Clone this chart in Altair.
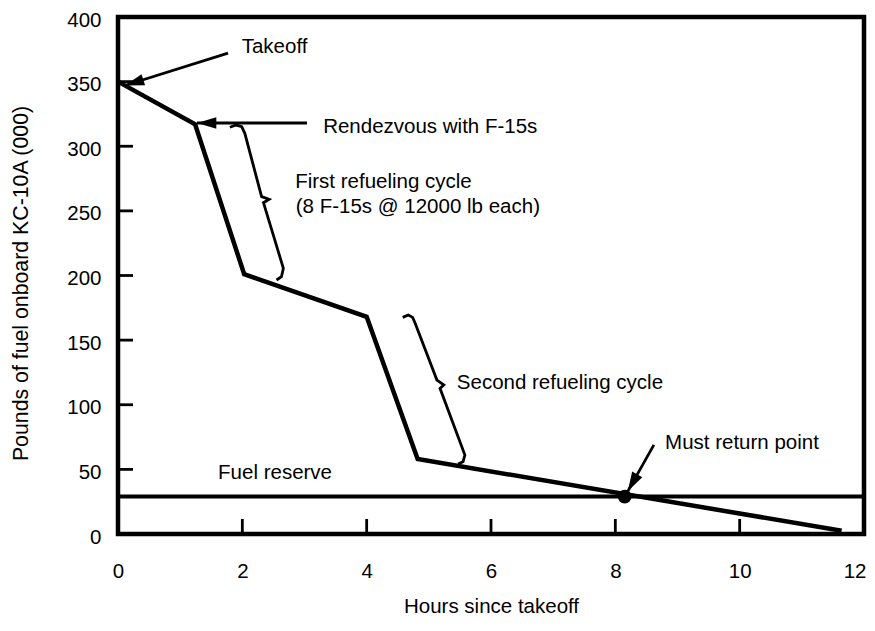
import math
import altair as alt
import pandas as pd

# ---------------- data ----------------
hours = [0.0, 1.24, 2.03, 4.0, 4.82, 11.64]
fuel = [350, 317, 201, 168, 58, 2.5]

reserve_level = 29
return_x = [8.15]
return_y = [29]

x_tick_values = [0, 2, 4, 6, 8, 10, 12]
y_tick_values = [0, 50, 100, 150, 200, 250, 300, 350, 400]
x_inner_ticks = [2, 4, 6, 8, 10]
y_inner_ticks = [50, 100, 150, 200, 250, 300, 350]

brace1_x = [1.80, 1.90, 1.99, 2.04, 2.31, 2.43, 2.34, 2.66, 2.63, 2.55]
brace1_y = [314.7, 316.4, 315.1, 310.0, 261.0, 259.0, 256.3, 205.6, 199.1, 196.5]
brace2_x = [4.58, 4.67, 4.74, 4.78, 5.13, 5.24, 5.18, 5.58, 5.55, 5.47]
brace2_y = [167.6, 169.4, 167.6, 163.0, 119.1, 115.3, 112.7, 61.1, 55.9, 54.2]

arrow_names = ["Takeoff", "Rendezvous", "Return"]
arrow_x0 = [1.77, 3.04, 8.62]
arrow_y0 = [372, 318, 69]
arrow_x1 = [0.11, 1.27, 8.20]
arrow_y1 = [347, 318, 33]

label_text = ["Takeoff", "Rendezvous with F-15s", "First refueling cycle",
              "(8 F-15s @ 12000 lb each)", "Second refueling cycle",
              "Must return point", "Fuel reserve"]
label_x = [1.99, 3.30, 2.85, 2.86, 5.45, 8.80, 1.61]
label_y = [376.5, 315, 272, 253, 117, 70.5, 47]

# ---------------- layout ----------------
W, H = 746, 517
XMAX, YMAX = 12, 400
FONT = "Liberation Sans"
FS = 20.5

xs = alt.Scale(domain=[0, XMAX], nice=False, zero=False)
ys = alt.Scale(domain=[0, YMAX], nice=False, zero=False)

last_x = "datum.value == %d" % XMAX
X = alt.X("x:Q", scale=xs, axis=alt.Axis(
    values=x_tick_values, title="Hours since takeoff", domain=False, grid=False,
    ticks=True, tickSize=0, labelPadding=27, labelFlush=False, labelFontSize=FS,
    labelAlign={"condition": {"test": last_x, "value": "right"}, "value": "center"},
    labelOffset={"condition": {"test": last_x, "value": 2}, "value": 0},
    titleFontSize=FS, titleFontWeight="normal", titleY=78, titleBaseline="alphabetic",
    labelColor="black", titleColor="black", format="d", labelFont=FONT, titleFont=FONT))
Y = alt.Y("y:Q", scale=ys, axis=alt.Axis(
    values=y_tick_values, title="Pounds of fuel onboard KC-10A (000)", domain=False,
    grid=False, ticks=True, tickSize=0, labelPadding=17, labelOffset=3, labelFlush=False,
    labelFontSize=FS, titleFontSize=21.3, titleFontWeight="normal", titleX=-91,
    titleY=266, titleBaseline="alphabetic", labelColor="black", titleColor="black",
    format="d", labelFont=FONT, titleFont=FONT))

main_df = pd.DataFrame({"x": hours, "y": fuel, "o": range(len(hours))})
main = alt.Chart(main_df).mark_line(color="black", strokeWidth=4.5, strokeJoin="miter").encode(
    x=X, y=Y, order="o:Q")

reserve_df = pd.DataFrame({"x": [0, XMAX], "y": [reserve_level, reserve_level]})
reserve = alt.Chart(reserve_df).mark_line(color="black", strokeWidth=3.8).encode(x=X, y=Y)

rows = []
for g, (bx, by) in enumerate([(brace1_x, brace1_y), (brace2_x, brace2_y)]):
    for i, (a, b) in enumerate(zip(bx, by)):
        rows.append({"x": a, "y": b, "g": g, "o": i})
brace_df = pd.DataFrame(rows)
braces = alt.Chart(brace_df).mark_line(color="black", strokeWidth=2.8).encode(
    x=X, y=Y, detail="g:N", order="o:Q")

arows = []
heads = []
ppx, ppy = W / XMAX, H / YMAX
for n, a0, b0, a1, b1 in zip(arrow_names, arrow_x0, arrow_y0, arrow_x1, arrow_y1):
    arows.append({"x": a0, "y": b0, "g": n, "o": 0})
    arows.append({"x": a1, "y": b1, "g": n, "o": 1})
    dx = (a1 - a0) * ppx
    dys = -(b1 - b0) * ppy
    ang = math.degrees(math.atan2(dx, -dys)) % 360
    heads.append({"x": a1, "y": b1, "angle": ang})
arrow_df = pd.DataFrame(arows)
head_df = pd.DataFrame(heads)
arrows = alt.Chart(arrow_df).mark_line(color="black", strokeWidth=2.8).encode(
    x=X, y=Y, detail="g:N", order="o:Q")
arrowheads = alt.Chart(head_df).mark_point(
    shape="M0,0 L-0.3,1 L0.3,1 Z", filled=True, size=1500, color="black",
    opacity=1, strokeWidth=0).encode(x=X, y=Y, angle=alt.Angle("angle:Q", scale=None))

dot = alt.Chart(pd.DataFrame({"x": return_x, "y": return_y})).mark_circle(
    size=190, color="black", opacity=1).encode(x=X, y=Y)

text_df = pd.DataFrame({"x": label_x, "y": label_y, "t": label_text})
texts = alt.Chart(text_df).mark_text(align="left", baseline="middle", fontSize=FS,
                                     font=FONT, color="black").encode(x=X, y=Y, text="t:N")

xt = alt.Chart(pd.DataFrame({"x": x_inner_ticks})).mark_rule(color="black", strokeWidth=2.8).encode(
    x=X, y=alt.value(H), y2=alt.value(H - 15))
yt = alt.Chart(pd.DataFrame({"y": y_inner_ticks})).mark_rule(color="black", strokeWidth=2.8).encode(
    y=Y, x=alt.value(0), x2=alt.value(15))

chart = alt.layer(reserve, xt, yt, braces, arrows, arrowheads, main, dot, texts).properties(
    width=W, height=H,
    autosize=alt.AutoSizeParams(type="none"),
    padding={"left": 110, "top": 9, "right": 3, "bottom": 85},
    background="white",
).configure(font=FONT).configure_view(stroke="black", strokeWidth=4.5)

chart.save("out.html", embed_options={"renderer": "svg", "actions": False})
